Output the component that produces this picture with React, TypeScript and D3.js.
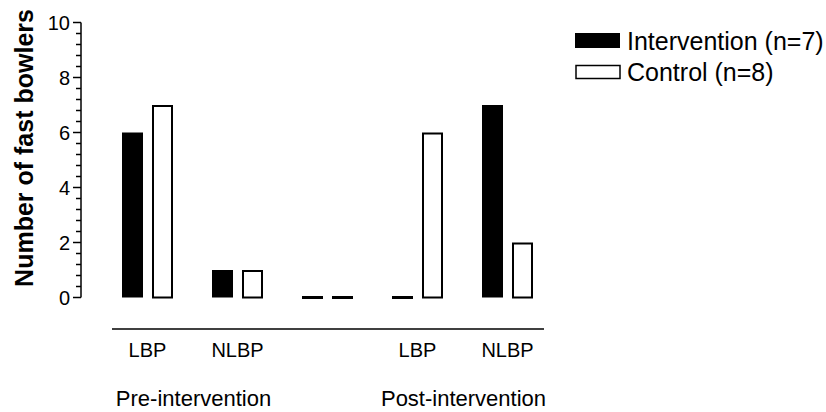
import React from "react";
import * as d3 from "d3";

const slots = ["s0", "s1", "s2", "s3", "s4"];
const categoryLabels = ["LBP", "NLBP", "", "LBP", "NLBP"];
const interventionValues = [6, 1, 0, 0, 7];
const controlValues = [7, 1, 0, 6, 2];
const seriesNames = ["Intervention (n=7)", "Control (n=8)"];
const groupLabels = ["Pre-intervention", "Post-intervention"];
const groupSlots = [[0, 1], [3, 4]];
const majorTicks = [0, 2, 4, 6, 8, 10];

const FONT = "'Liberation Sans', Arial, Helvetica, sans-serif";

export default function App() {
  const W = 826;
  const H = 412;
  const x = d3.scaleBand<string>().domain(slots).range([102.5, 552.5]).paddingInner(0).paddingOuter(0);
  const xs = d3.scaleBand<string>().domain(["i", "c"]).range([19.5, 70.5]).paddingInner(0.3).paddingOuter(0);
  const y = d3.scaleLinear().domain([0, 10]).range([297.5, 22.5]);
  const axisX = 81;
  const minor = d3
    .range(0, 26)
    .map((i) => +(i * 0.4).toFixed(2))
    .filter((v) => !majorTicks.some((m) => Math.abs(m - v) < 1e-6));

  const bw = xs.bandwidth();
  const bar = (val: number, key: string, slot: string, filled: boolean) => {
    const bx = (x(slot) as number) + (xs(key) as number);
    if (val === 0) {
      return <rect key={key + slot} x={bx} y={y(0) - 1.5} width={bw} height={3} fill="#000" />;
    }
    if (filled) {
      return <rect key={key + slot} x={bx} y={y(val)} width={bw} height={y(0) - y(val)} fill="#000" />;
    }
    return (
      <rect key={key + slot} x={bx + 1} y={y(val) + 1} width={bw - 2} height={y(0) - y(val) - 1} fill="#fff" stroke="#000" strokeWidth={2} />
    );
  };

  return (
    <svg width={W} height={H} style={{ position: "absolute", left: 0, top: 0, background: "#fff" }} fontFamily={FONT}>
      <rect x={0} y={0} width={W} height={H} fill="#fff" />
      {/* y axis */}
      <line x1={axisX} x2={axisX} y1={y(10)} y2={y(0)} stroke="#000" strokeWidth={1.5} />
      {majorTicks.map((t) => (
        <g key={"M" + t}>
          <line x1={axisX - 8} x2={axisX} y1={y(t)} y2={y(t)} stroke="#000" strokeWidth={1.5} />
          <text x={70} y={y(t)} textAnchor="end" dominantBaseline="central" fontSize={20} fill="#000">
            {t}
          </text>
        </g>
      ))}
      {minor.map((t) => (
        <line key={"m" + t} x1={axisX - 5} x2={axisX} y1={y(t)} y2={y(t)} stroke="#000" strokeWidth={1.5} />
      ))}
      <text transform={`translate(33,${(y(0) + y(10)) / 2 - 12}) rotate(-90)`} textAnchor="middle" fontSize={25} fontWeight="bold" fill="#000">
        Number of fast bowlers
      </text>
      {/* bars */}
      {slots.map((s, i) => (
        <g key={s}>
          {bar(interventionValues[i], "i", s, true)}
          {bar(controlValues[i], "c", s, false)}
        </g>
      ))}
      {/* x axis */}
      <line x1={112} x2={544} y1={329} y2={329} stroke="#000" strokeWidth={1.5} />
      {slots.map((s, i) => (
        <text key={"c" + s} x={(x(s) as number) + x.bandwidth() / 2} y={357} textAnchor="middle" fontSize={20} fill="#000">
          {categoryLabels[i]}
        </text>
      ))}
      {groupLabels.map((g, i) => {
        const cx = d3.mean(groupSlots[i].map((k) => (x(slots[k]) as number) + x.bandwidth() / 2)) as number;
        return (
          <text key={g} x={cx + 1} y={406} textAnchor="middle" fontSize={22} fill="#000">
            {g}
          </text>
        );
      })}
      {/* legend */}
      <rect x={575} y={33} width={45} height={15} fill="#000" />
      <text x={627} y={50} fontSize={25} fill="#000">
        {seriesNames[0]}
      </text>
      <rect x={576} y={65.5} width={44} height={13} fill="#fff" stroke="#000" strokeWidth={1.5} />
      <text x={627} y={81} fontSize={25} fill="#000">
        {seriesNames[1]}
      </text>
    </svg>
  );
}
